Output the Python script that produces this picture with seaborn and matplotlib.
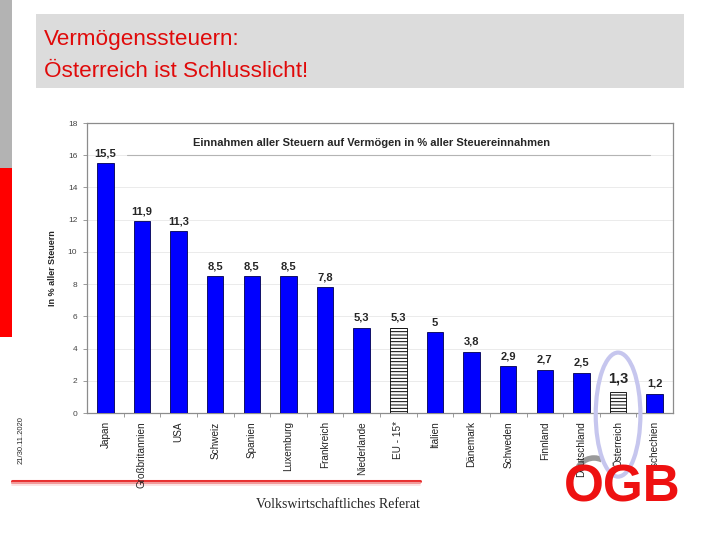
import matplotlib
matplotlib.use("Agg")
import matplotlib.pyplot as plt
import pandas as pd
import seaborn as sns
from matplotlib.lines import Line2D
from matplotlib.patches import Arc, Ellipse, Rectangle

countries = ["Japan", "Großbritannien", "USA", "Schweiz", "Spanien", "Luxemburg",
             "Frankreich", "Niederlande", "EU - 15*", "Italien", "Dänemark",
             "Schweden", "Finnland", "Deutschland", "Österreich", "Tschechien"]
values = [15.5, 11.9, 11.3, 8.5, 8.5, 8.5, 7.8, 5.3, 5.3, 5, 3.8, 2.9, 2.7, 2.5, 1.3, 1.2]
value_labels = ["15,5", "11,9", "11,3", "8,5", "8,5", "8,5", "7,8", "5,3", "5,3", "5",
                "3,8", "2,9", "2,7", "2,5", "1,3", "1,2"]
hatched = ["EU - 15*", "Österreich"]
highlight = "Österreich"
yticks = [0, 2, 4, 6, 8, 10, 12, 14, 16, 18]

sns.set_style("white")
plt.rcParams["font.family"] = ["Liberation Sans", "DejaVu Sans"]
plt.rcParams["hatch.linewidth"] = 0.7
plt.rcParams["hatch.color"] = "black"

df = pd.DataFrame({"Land": countries, "Anteil": values})

fig = plt.figure(figsize=(7.2, 5.4), dpi=100)

# slide decorations
fig.add_artist(Rectangle((0, 1 - 168 / 540), 12 / 720, 168 / 540,
                         transform=fig.transFigure, color="#b3b3b3", lw=0))
fig.add_artist(Rectangle((0, 1 - 337 / 540), 12 / 720, 169 / 540,
                         transform=fig.transFigure, color="#ff0000", lw=0))
fig.add_artist(Rectangle((36 / 720, 1 - 88 / 540), 648 / 720, 74 / 540,
                         transform=fig.transFigure, color="#dcdcdc", lw=0))
fig.text(44 / 720, 1 - 45 / 540, "Vermögenssteuern:", color="#e00a0a",
         fontsize=16.2, va="baseline")
fig.text(44 / 720, 1 - 77 / 540, "Österreich ist Schlusslicht!", color="#e00a0a",
         fontsize=16.2, va="baseline")

# red footer line with soft fade
for dy, col, lw in [(0, "#e83030", 2.2), (2, "#f29a9a", 1.5), (3.5, "#fbdede", 1.2)]:
    yy = 1 - (481 + dy) / 540
    fig.add_artist(Line2D([12 / 720, 420 / 720], [yy, yy], transform=fig.transFigure,
                          color=col, lw=lw, zorder=0))

fig.text(420 / 720, 1 - 508 / 540, "Volkswirtschaftliches Referat",
         family="Liberation Serif", fontsize=10, ha="right", va="baseline")
fig.text(21 / 720, 1 - 440 / 540, "21/30.11.2020", rotation=90,
         fontsize=5.5, ha="center", va="center")

# logo
fig.add_artist(Arc((594 / 720, 1 - 476 / 540), 36 / 720, 36 / 540, theta1=70, theta2=160,
                   transform=fig.transFigure, color="#9a9a9a", lw=4, zorder=0))
fig.text(622 / 720, 1 - 502 / 540, "OGB", color="#ee1111", fontsize=37,
         fontweight="heavy", ha="center", va="baseline", zorder=0)

# chart
ax = fig.add_axes([87 / 720, 1 - 413 / 540, 586 / 720, 290 / 540])
ax.patch.set_alpha(0)
sns.barplot(data=df, x="Land", y="Anteil", color="#0000ff", saturation=1,
            width=0.45, edgecolor="#000050", linewidth=0.6, ax=ax, zorder=3)

for patch, land, lab in zip(ax.patches, countries, value_labels):
    if land in hatched:
        patch.set_facecolor("white")
        patch.set_edgecolor("black")
        patch.set_hatch("-----")
    big = land == highlight
    ax.annotate(lab, (patch.get_x() + patch.get_width() / 2, patch.get_height()),
                xytext=(0, 5 if big else 3.5), textcoords="offset points",
                ha="center", va="bottom", fontsize=10.5 if big else 8,
                fontweight="bold", zorder=5)

ax.set_ylim(0, 18)
ax.set_xlim(-0.5, len(countries) - 0.5)
ax.set_yticks(yticks)
ax.set_yticklabels([str(t) for t in yticks], fontsize=6, color="#444444")
ax.grid(axis="y", color="#ebebeb", lw=0.7, zorder=0)
ax.set_axisbelow(True)
for sp in ax.spines.values():
    sp.set_color("#8c8c8c")
    sp.set_linewidth(0.9)
ax.tick_params(axis="y", length=3, width=0.6, color="#8c8c8c", pad=4, left=True)
ax.tick_params(axis="x", length=0, labelsize=7.2, labelcolor="#222222", pad=6,
               labelrotation=90)
for lbl in ax.get_xticklabels():
    lbl.set_va("top")
ax.set_xticks([i + 0.5 for i in range(len(countries) - 1)], minor=True)
ax.tick_params(axis="x", which="minor", length=3, width=0.6, color="#8c8c8c", bottom=True)
ax.set_xlabel("")
ax.set_ylabel("In % aller Steuern", fontsize=6.5, fontweight="bold", labelpad=8)

ax.text(0.486, 0.931, "Einnahmen aller Steuern auf Vermögen in % aller Steuereinnahmen",
        transform=ax.transAxes, ha="center", va="center", fontsize=8,
        fontweight="bold", zorder=5)
ax.axhline(16, xmin=0.068, xmax=0.961, color="#b4b4b4", lw=0.8, zorder=1)

# highlight ring around Austria
hi = countries.index(highlight)
ax.add_patch(Ellipse((hi, -0.1), 1.22, 7.7, fill=False, edgecolor="#c6c6ee",
                     lw=3, clip_on=False, zorder=6))

fig.savefig("out.png", dpi=100)
